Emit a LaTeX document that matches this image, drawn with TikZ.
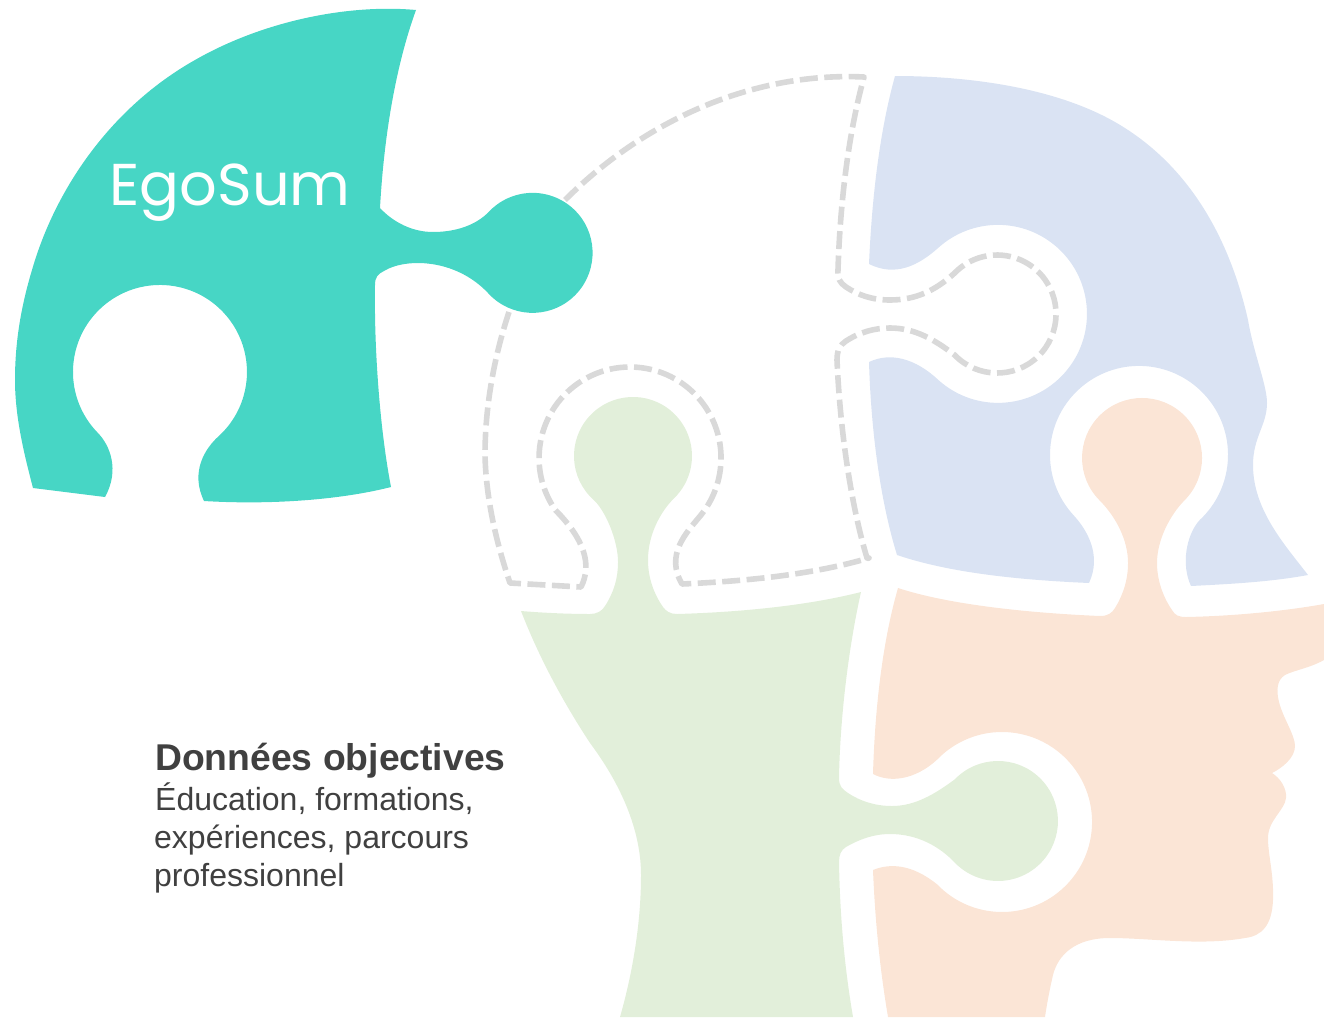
\documentclass[tikz,border=0pt]{standalone}
\usepackage{fontspec}
\setmainfont{Liberation Sans}
\newfontfamily\logofont{Poppins}
\definecolor{teal1}{HTML}{47D6C5}
\definecolor{green1}{HTML}{E2EFDA}
\definecolor{peach1}{HTML}{FBE5D6}
\definecolor{blue1}{HTML}{DAE3F3}
\definecolor{dash1}{HTML}{D9D9D9}
\definecolor{ink1}{HTML}{404040}
\tikzset{
  dashline/.style={draw=dash1,line width=5.6pt,dash pattern=on 18pt off 6.5pt},
  bodytext/.style={anchor=base west,inner sep=0pt,text=ink1,font=\fontsize{32}{38}\selectfont},
}
\begin{document}
\begin{tikzpicture}[x=1pt,y=-1pt]
\useasboundingbox (0,0) rectangle (1324,1017);
% dashed central piece
\draw[dashline,line join=round]
  (509,312) .. controls (493,360) and (485,410) .. (485,455)
  .. controls (486,500) and (497,545) .. (510,583)
  -- (581,587)
  .. controls (592,565) and (585,540) .. (555.5,510.2)
  arc[start angle=145,end angle=400,radius=91]
  .. controls (686,533) and (665,555) .. (682,584)
  .. controls (750,581) and (815,574) .. (869,558)
  -- (867,558)
  .. controls (851,505) and (840,430) .. (837,360)
  .. controls (837,350) and (840,345) .. (846,341)
  .. controls (860,332) and (875,328) .. (890,328)
  .. controls (915,328) and (935,340) .. (954.6,355)
  arc[start angle=136,end angle=-136,radius=59]
  .. controls (935,291) and (915,300) .. (890,300)
  .. controls (872,300) and (858,295) .. (846,287)
  .. controls (840,283) and (837,278) .. (838,270)
  .. controls (840,205) and (848,135) .. (864,77)
  .. controls (760,72) and (650,115) .. (565,200);
% teal piece
\fill[teal1]
  (416,10) .. controls (350,4) and (265,20) .. (195,60)
  .. controls (110,108) and (55,190) .. (32,270)
  .. controls (20,310) and (15,345) .. (15,380)
  .. controls (15,415) and (23,450) .. (33,488)
  -- (105,497)
  .. controls (120,470) and (110,445) .. (97.4,432.4)
  arc[start angle=136,end angle=407.8,radius=87]
  .. controls (205,448.5) and (190,472) .. (204,501)
  .. controls (270,505) and (340,500) .. (391,487)
  .. controls (380,430) and (374,350) .. (375,285)
  .. controls (375,277) and (378,274) .. (384,271)
  .. controls (405,258) and (455,258) .. (488,293)
  arc[start angle=138,end angle=-136,radius=60]
  .. controls (476,225.6) and (455,232) .. (433,232)
  .. controls (412,232) and (393,222) .. (380,208)
  .. controls (384,135) and (396,65) .. (416,10) -- cycle;
% green piece
\fill[green1]
  (521,611) .. controls (545,613) and (570,614) .. (590,614)
  .. controls (597,614) and (602,611) .. (605,606)
  .. controls (614,592) and (618,578) .. (618,562)
  .. controls (618,540) and (605,510) .. (593.5,499.8)
  arc[start angle=132,end angle=406,radius=59]
  .. controls (663,509) and (648,532) .. (648,560)
  .. controls (648,578) and (654,594) .. (663,607)
  .. controls (666,611) and (670,614) .. (677,614)
  .. controls (745,612) and (810,605) .. (861,592)
  .. controls (848,650) and (840,720) .. (839,778)
  .. controls (839,786) and (842,789) .. (848,793)
  .. controls (860,801) and (875,806) .. (892,806)
  .. controls (915,806) and (935,794) .. (954.8,779.3)
  arc[start angle=224,end angle=496,radius=60]
  .. controls (940,847) and (918,834) .. (890,834)
  .. controls (873,834) and (858,840) .. (846,847)
  .. controls (841,850) and (839,855) .. (839,862)
  .. controls (840,920) and (845,970) .. (853,1017)
  -- (620,1017)
  .. controls (632,975) and (641,925) .. (641,875)
  .. controls (641,835) and (625,790) .. (590,743)
  .. controls (565,705) and (540,660) .. (521,611) -- cycle;
% peach piece
\fill[peach1]
  (898,588) .. controls (950,605) and (1030,613) .. (1100,616)
  .. controls (1108,616) and (1112,613) .. (1115,608)
  .. controls (1123,595) and (1128,580) .. (1128,563)
  .. controls (1128,540) and (1116,517) .. (1099.6,500.4)
  arc[start angle=135,end angle=405,radius=60]
  .. controls (1170,515) and (1157,540) .. (1157,563)
  .. controls (1157,580) and (1163,597) .. (1172,610)
  .. controls (1175,615) and (1178,617) .. (1186,617)
  .. controls (1235,616) and (1285,611) .. (1324,604)
  -- (1324,660)
  .. controls (1310,668) and (1295,670) .. (1285,675)
  .. controls (1277,680) and (1276,690) .. (1279,702)
  .. controls (1283,718) and (1295,735) .. (1295,746)
  .. controls (1295,758) and (1282,768) .. (1272,773)
  .. controls (1280,778) and (1287,788) .. (1286,798)
  .. controls (1285,810) and (1268,820) .. (1268,838)
  .. controls (1268,855) and (1274,875) .. (1273,900)
  .. controls (1272,925) and (1262,936) .. (1245,938)
  .. controls (1200,946) and (1150,938) .. (1110,938)
  .. controls (1075,938) and (1058,955) .. (1053,975)
  .. controls (1050,988) and (1047,1003) .. (1045,1017)
  -- (888,1017)
  .. controls (880,970) and (875,920) .. (873,870)
  .. controls (890,863) and (912,864) .. (937.3,884.5)
  arc[start angle=136,end angle=-136,radius=90]
  .. controls (915,780) and (890,783) .. (873,774)
  .. controls (875,705) and (883,640) .. (898,588) -- cycle;
% blue piece
\fill[blue1]
  (895,76) .. controls (960,76) and (1050,85) .. (1115,122)
  .. controls (1190,165) and (1230,240) .. (1248,320)
  .. controls (1254,355) and (1267,385) .. (1267,403)
  .. controls (1267,425) and (1253,437) .. (1253,465)
  .. controls (1253,510) and (1285,545) .. (1308,575)
  .. controls (1270,582) and (1230,584) .. (1191,586)
  .. controls (1181,565) and (1186,535) .. (1199.7,520)
  arc[start angle=47,end angle=-223,radius=89]
  .. controls (1087,530) and (1102,555) .. (1089,583)
  .. controls (1020,580) and (950,573) .. (897,555)
  .. controls (880,500) and (871,430) .. (869,362)
  .. controls (890,352) and (915,358) .. (938.4,380)
  arc[start angle=132,end angle=-132,radius=89]
  .. controls (918,266) and (895,277) .. (869,264)
  .. controls (872,195) and (880,130) .. (895,76) -- cycle;
% texts
\node[anchor=base,inner sep=0pt,text=white,font=\logofont\fontsize{59}{59}\selectfont] (logo) at (230,205) {EgoSum};
\node[anchor=base west,inner sep=0pt,text=ink1,font=\bfseries\fontsize{37.3}{40}\selectfont] (title) at (155,770) {Données objectives};
\node[bodytext] (l1) at (155,810) {Éducation, formations,};
\node[bodytext] (l2) at (154,848) {expériences, parcours};
\node[bodytext] (l3) at (154,886) {professionnel};
\end{tikzpicture}
\end{document}
